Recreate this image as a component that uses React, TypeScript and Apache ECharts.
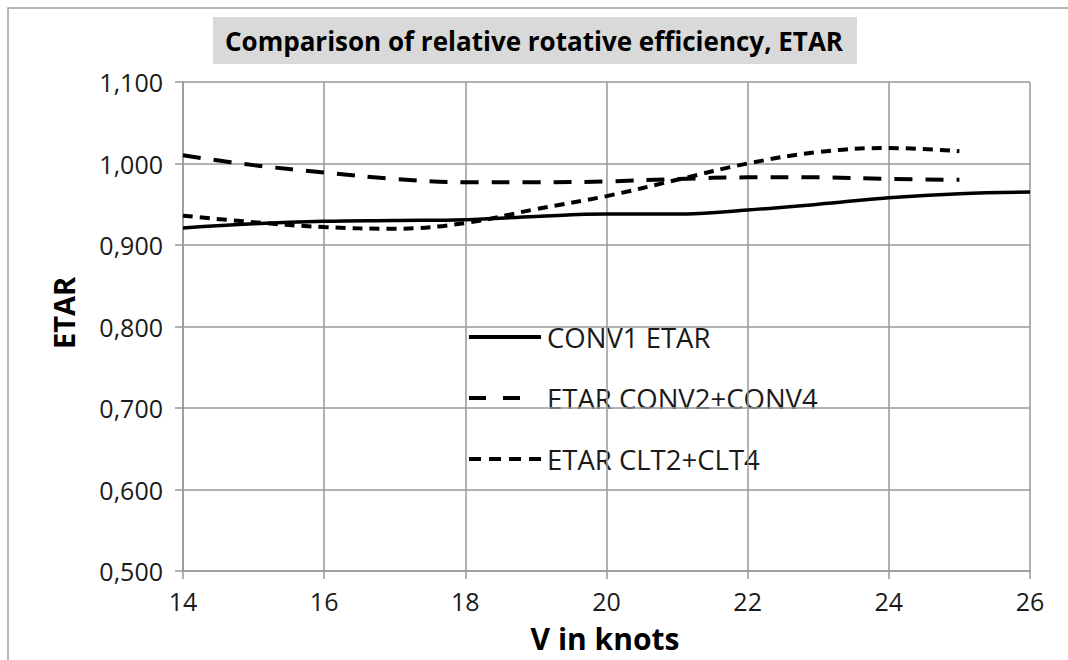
import React, { useEffect, useRef } from "react";
import * as echarts from "echarts";

const speeds = [14, 15, 16, 17, 18, 19, 20, 21, 22, 23, 24, 25, 26];
const conv1 = [0.921, 0.926, 0.929, 0.930, 0.931, 0.935, 0.938, 0.938, 0.943, 0.950, 0.958, 0.963, 0.965];
const conv24 = [1.010, 0.998, 0.989, 0.981, 0.977, 0.977, 0.978, 0.981, 0.983, 0.983, 0.981, 0.980, null];
const clt24 = [0.936, 0.928, 0.922, 0.920, 0.927, 0.944, 0.960, 0.980, 1.000, 1.014, 1.019, 1.015, null];
const seriesNames = ["CONV1 ETAR", "ETAR CONV2+CONV4", "ETAR CLT2+CLT4"];
const titleText = "Comparison of relative rotative efficiency, ETAR";
const xName = "V in knots";
const yName = "ETAR";

const FONT = "Open Sans";

export default function App() {
  const ref = useRef<HTMLDivElement>(null);
  useEffect(() => {
    const chart = echarts.init(ref.current!, null, { renderer: "svg" });
    const mk = (vals: (number | null)[]) => speeds.map((s, i) => [s, vals[i]]).filter((p) => p[1] !== null);
    const legendRows = [
      { y: 337, x2: 541, dash: null as number[] | null },
      { y: 398, x2: 521, dash: [17, 17] },
      { y: 459, x2: 541, dash: [12, 8] },
    ];
    chart.setOption({
      animation: false,
      backgroundColor: "#ffffff",
      grid: { left: 183, right: 38, top: 82, bottom: 89 },
      xAxis: {
        type: "value",
        min: 14,
        max: 26,
        interval: 2,
        axisLine: { show: true, lineStyle: { color: "#999", width: 1.5 } },
        axisTick: { show: true, length: 8, lineStyle: { color: "#999", width: 1.5 } },
        axisLabel: { fontFamily: FONT, fontSize: 25, color: "#1a1a1a", margin: 17 },
        splitLine: { show: true, lineStyle: { color: "#999", width: 1.5 } },
      },
      yAxis: {
        type: "value",
        min: 0.5,
        max: 1.1,
        interval: 0.1,
        axisLine: { show: true, lineStyle: { color: "#999", width: 1.5 } },
        axisTick: { show: true, length: 8, lineStyle: { color: "#999", width: 1.5 } },
        axisLabel: {
          fontFamily: FONT,
          fontSize: 25,
          color: "#1a1a1a",
          margin: 20,
          formatter: (v: number) => v.toFixed(3).replace(".", ","),
        },
        splitLine: { show: true, lineStyle: { color: "#999", width: 1.5 } },
      },
      series: [
        {
          name: seriesNames[0],
          type: "line",
          data: mk(conv1),
          smooth: 0.4,
          showSymbol: false,
          lineStyle: { color: "#000", width: 3.5, type: "solid" },
        },
        {
          name: seriesNames[1],
          type: "line",
          data: mk(conv24),
          smooth: 0.4,
          showSymbol: false,
          lineStyle: { color: "#000", width: 4, type: [18, 13] },
        },
        {
          name: seriesNames[2],
          type: "line",
          data: mk(clt24),
          smooth: 0.4,
          showSymbol: false,
          lineStyle: { color: "#000", width: 4, type: [10, 7] },
        },
      ],
      graphic: [
        {
          type: "rect",
          shape: { x: 8, y: 8, width: 1200, height: 800 },
          style: { fill: "none", stroke: "#a0a0a0", lineWidth: 1.5 },
          silent: true,
        },
        {
          type: "rect",
          shape: { x: 213, y: 17, width: 644, height: 47 },
          style: { fill: "#d9d9d9" },
          silent: true,
        },
        {
          type: "text",
          x: 534,
          y: 41,
          style: {
            text: titleText,
            fontFamily: FONT,
            fontWeight: "bold",
            fontSize: 26,
            fill: "#000",
            align: "center",
            verticalAlign: "middle",
          },
        },
        {
          type: "text",
          x: 63,
          y: 313,
          rotation: Math.PI / 2,
          style: {
            text: yName,
            fontFamily: FONT,
            fontWeight: "bold",
            fontSize: 29,
            fill: "#000",
            align: "center",
            verticalAlign: "middle",
          },
        },
        {
          type: "text",
          x: 605,
          y: 638,
          style: {
            text: xName,
            fontFamily: FONT,
            fontWeight: "bold",
            fontSize: 30,
            fill: "#000",
            align: "center",
            verticalAlign: "middle",
          },
        },
        ...legendRows.flatMap((r, i) => [
          {
            type: "line",
            shape: { x1: 469, y1: r.y, x2: r.x2, y2: r.y },
            style: { stroke: "#000", lineWidth: 4, lineDash: r.dash || undefined },
            silent: true,
          },
          {
            type: "text",
            x: 547,
            y: r.y,
            style: {
              text: seriesNames[i],
              fontFamily: FONT,
              fontSize: 27.5,
              fill: "#1a1a1a",
              align: "left",
              verticalAlign: "middle",
            },
          },
        ]),
      ],
    });
    return () => chart.dispose();
  }, []);
  return <div ref={ref} style={{ position: "fixed", left: 0, top: 0, width: 1068, height: 660 }} />;
}
